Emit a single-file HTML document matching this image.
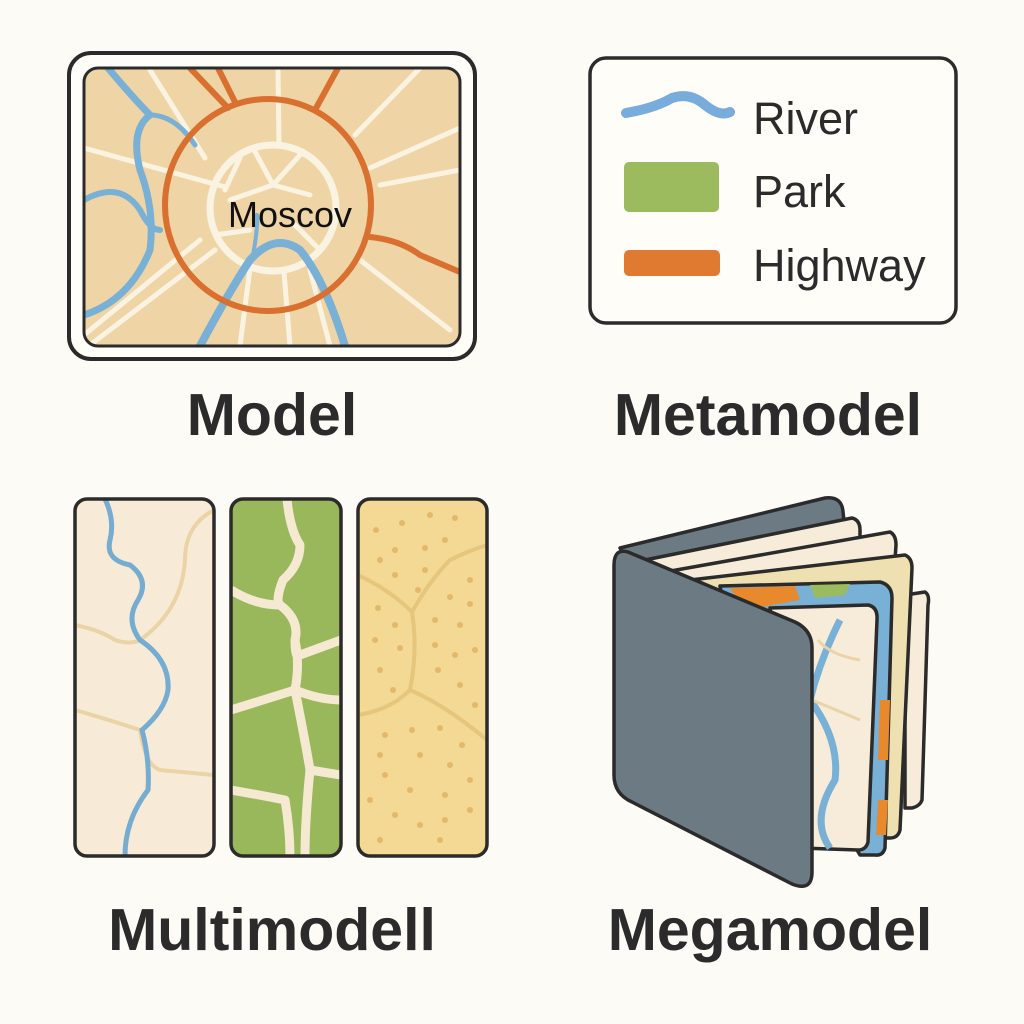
<!DOCTYPE html>
<html><head><meta charset="utf-8"><style>
html,body{margin:0;padding:0;background:#fdfbf5;}
svg{display:block}
text{font-family:"Liberation Sans",sans-serif;}
</style></head><body>
<svg width="1024" height="1024" viewBox="0 0 1024 1024" xmlns="http://www.w3.org/2000/svg">
<rect width="1024" height="1024" fill="#fdfbf5"/>
<defs>
<clipPath id="cm"><rect x="84" y="68" width="376" height="278" rx="14"/></clipPath>
<clipPath id="p1"><rect x="75" y="499" width="139" height="357" rx="12"/></clipPath>
<clipPath id="p2"><rect x="231" y="499" width="110" height="357" rx="12"/></clipPath>
<clipPath id="p3"><rect x="358" y="499" width="129" height="357" rx="12"/></clipPath>
</defs>

<!-- Model -->
<rect x="69" y="53" width="406" height="306" rx="22" fill="#fffdf7" stroke="#2b2b2b" stroke-width="4"/>
<g clip-path="url(#cm)">
<rect x="84" y="68" width="376" height="278" fill="#efd4a6"/>
<g stroke="#fbf3e2" stroke-width="5" fill="none" stroke-linecap="round">
<path d="M84 148 L225 187"/><path d="M84 335 L200 240"/><path d="M90 345 L215 250"/>
<path d="M278 70 L279 145"/><path d="M420 68 L355 135"/><path d="M460 170 L380 185"/>
<path d="M460 128 L370 168"/>
<path d="M450 330 L360 260"/><path d="M240 346 L250 268"/><path d="M290 346 L284 272"/>
<path d="M150 70 L205 158"/><path d="M330 346 L310 270"/>
<path d="M225 190 L240 158"/>
<ellipse cx="273" cy="208" rx="63" ry="63" stroke-width="7"/>
<path d="M273 185 L253 148 M273 185 L300 155 M273 185 L310 195 M273 185 L230 200 M250 230 L215 235 M295 225 L320 250"/>
</g>
<g stroke="#78b0d6" fill="none" stroke-linecap="round">
<path d="M108 68 Q135 100 150 115 Q130 130 140 170 Q155 210 150 250 Q130 300 84 315" stroke-width="7"/>
<path d="M150 115 Q175 115 195 145" stroke-width="5"/>
<path d="M84 200 Q120 180 140 210 Q150 230 160 230" stroke-width="6"/>
<path d="M200 346 Q230 290 250 260 Q275 232 300 250 Q325 280 345 346" stroke-width="8"/>
<path d="M252 260 Q258 230 257 215" stroke-width="4"/>
</g>
<g stroke="#d9702f" fill="none" stroke-width="6" stroke-linecap="round">
<ellipse cx="268" cy="205" rx="103" ry="106"/>
<path d="M190 68 L228 108 M218 68 L235 102 M338 68 L315 110 M370 237 Q400 240 420 255 L460 272"/>
</g>
</g>
<rect x="84" y="68" width="376" height="278" rx="14" fill="none" stroke="#2b2b2b" stroke-width="3"/>
<text x="290" y="227" font-size="36" fill="#111" text-anchor="middle">Moscov</text>
<text x="272" y="435" font-size="59" font-weight="bold" fill="#2b2b2b" text-anchor="middle">Model</text>

<!-- Metamodel -->
<rect x="590" y="58" width="366" height="265" rx="16" fill="#fffdf7" stroke="#2b2b2b" stroke-width="3.5"/>
<path d="M626 113 Q655 108 672 98 Q690 92 705 105 Q720 117 730 112" stroke="#78acdc" stroke-width="10" fill="none" stroke-linecap="round"/>
<rect x="624" y="162" width="95" height="50" rx="5" fill="#9cbb5e"/>
<rect x="624" y="250" width="96" height="26" rx="5" fill="#e07a30"/>
<text x="753" y="134" font-size="45" fill="#2b2b2b">River</text>
<text x="753" y="207" font-size="45" fill="#2b2b2b">Park</text>
<text x="753" y="281" font-size="45" fill="#2b2b2b">Highway</text>
<text x="768" y="435" font-size="59" font-weight="bold" fill="#2b2b2b" text-anchor="middle">Metamodel</text>

<!-- Multimodell -->
<g clip-path="url(#p1)">
<rect x="75" y="499" width="139" height="357" fill="#f7ebd7"/>
<g stroke="#ead3a6" stroke-width="4" fill="none">
<path d="M214 510 Q185 525 185 560 Q182 610 140 640"/>
<path d="M75 625 Q100 630 115 640 Q130 645 140 640"/>
<path d="M75 710 Q110 720 140 730 Q145 765 160 770 L214 775"/>
</g>
<path d="M105 499 Q115 520 110 540 Q105 560 130 565 Q150 580 138 600 Q125 620 140 640 Q170 660 168 690 Q165 710 142 730 Q150 760 148 790 Q125 820 125 856" stroke="#74acd2" stroke-width="5" fill="none"/>
</g>
<rect x="75" y="499" width="139" height="357" rx="12" fill="none" stroke="#2b2b2b" stroke-width="3.5"/>
<g clip-path="url(#p2)">
<rect x="231" y="499" width="110" height="357" fill="#99b75b"/>
<g stroke="#f5e9d2" stroke-width="9" fill="none" stroke-linejoin="round">
<path d="M287 499 Q290 530 300 545 Q300 565 283 580 Q275 600 280 605 Q300 620 295 640 Q295 660 300 655 L341 640"/>
<path d="M231 590 Q255 605 280 605"/>
<path d="M295 640 Q300 665 295 690 Q320 700 341 700 M295 690 L231 710"/>
<path d="M295 690 Q305 740 310 770 L341 775 M310 770 Q305 820 305 856"/>
<path d="M231 790 Q260 795 285 800 Q290 830 290 856"/>
</g>
</g>
<rect x="231" y="499" width="110" height="357" rx="12" fill="none" stroke="#2b2b2b" stroke-width="3.5"/>
<g clip-path="url(#p3)">
<rect x="358" y="499" width="129" height="357" fill="#f3d994"/>
<g stroke="#e6c57c" stroke-width="4" fill="none">
<path d="M358 575 Q390 590 412 612 Q430 580 450 560 Q470 550 487 545"/>
<path d="M412 612 Q418 650 410 690 Q390 710 358 715 M410 690 Q445 705 487 740"/>
</g>
<g fill="#e3b86b">
<circle cx="376" cy="530" r="3"/><circle cx="402" cy="523" r="3"/><circle cx="430" cy="515" r="3"/><circle cx="455" cy="518" r="3"/><circle cx="445" cy="540" r="3"/>
<circle cx="395" cy="550" r="3"/><circle cx="380" cy="560" r="3"/><circle cx="425" cy="548" r="3"/><circle cx="425" cy="570" r="3"/><circle cx="395" cy="575" r="3"/>
<circle cx="470" cy="580" r="3"/><circle cx="450" cy="597" r="3"/><circle cx="418" cy="590" r="3"/><circle cx="378" cy="608" r="3"/><circle cx="470" cy="604" r="3"/>
<circle cx="395" cy="625" r="3"/><circle cx="435" cy="620" r="3"/><circle cx="460" cy="625" r="3"/><circle cx="375" cy="640" r="3"/><circle cx="400" cy="648" r="3"/>
<circle cx="435" cy="645" r="3"/><circle cx="455" cy="655" r="3"/><circle cx="475" cy="650" r="3"/><circle cx="380" cy="670" r="3"/><circle cx="393" cy="690" r="3"/>
<circle cx="438" cy="670" r="3"/><circle cx="460" cy="685" r="3"/><circle cx="475" cy="705" r="3"/><circle cx="385" cy="735" r="3"/><circle cx="412" cy="730" r="3"/>
<circle cx="440" cy="728" r="3"/><circle cx="462" cy="745" r="3"/><circle cx="380" cy="755" r="3"/><circle cx="420" cy="755" r="3"/><circle cx="450" cy="765" r="3"/>
<circle cx="470" cy="780" r="3"/><circle cx="385" cy="775" r="3"/><circle cx="410" cy="790" r="3"/><circle cx="445" cy="795" r="3"/><circle cx="470" cy="810" r="3"/>
<circle cx="370" cy="800" r="3"/><circle cx="395" cy="815" r="3"/><circle cx="420" cy="825" r="3"/><circle cx="445" cy="820" r="3"/><circle cx="380" cy="840" r="3"/><circle cx="440" cy="840" r="3"/>
</g>
</g>
<rect x="358" y="499" width="129" height="357" rx="12" fill="none" stroke="#2b2b2b" stroke-width="3.5"/>
<text x="272" y="950" font-size="59" font-weight="bold" fill="#2b2b2b" text-anchor="middle">Multimodell</text>

<!-- Megamodel book -->
<g stroke="#2b2b2b" stroke-width="3.5" stroke-linejoin="round">
<path d="M620 548 L825 498 Q842 496 843 512 L845 530 L640 580 Z" fill="#6c7b83"/>
<path d="M905 595 L925 592 Q930 595 928 605 L922 800 Q920 806 912 808 L905 808 Z" fill="#f6ecd9"/>
<path d="M645 560 L852 518 Q860 520 860 530 L860 540 L660 585 Z" fill="#f6ecd9"/>
<path d="M665 572 L890 532 Q896 535 896 545 L895 560 L680 600 Z" fill="#f6ecd9"/>
<path d="M690 580 L905 555 Q912 558 912 568 L900 830 Q898 838 890 838 L880 838 L700 620 Z" fill="#efe0b2"/>
<path d="M720 586 L880 582 Q892 585 892 598 L885 848 Q883 856 875 855 L860 855 L730 640 Z" fill="#78b0d6"/>
<path d="M730 588 L795 586 L800 600 L745 610 Z" fill="#e8892e" stroke="none"/>
<path d="M810 585 L850 584 L845 595 L815 598 Z" fill="#9cbb5e" stroke="none"/>
<path d="M880 700 L890 700 L888 760 L878 760 Z M878 800 L888 800 L886 835 L876 835 Z" fill="#e8892e" stroke="none"/>
<path d="M770 608 L868 605 Q878 607 877 620 L868 842 Q866 850 858 850 L800 848 Z" fill="#f6ecd9"/>
<path d="M840 620 Q820 660 810 700 Q840 740 835 780 Q810 820 830 848" stroke="#78b0d6" stroke-width="7" fill="none"/>
<path d="M818 640 Q830 655 860 660 M812 700 L860 720" stroke="#ead3a6" stroke-width="3" fill="none"/>
<path d="M628 552 L795 622 Q812 630 812 648 L812 872 Q812 892 792 884 L632 802 Q614 794 614 775 L614 565 Q614 548 628 552 Z" fill="#6c7b83"/>
</g>
<text x="770" y="950" font-size="59" font-weight="bold" fill="#2b2b2b" text-anchor="middle">Megamodel</text>
</svg>
</body></html>
